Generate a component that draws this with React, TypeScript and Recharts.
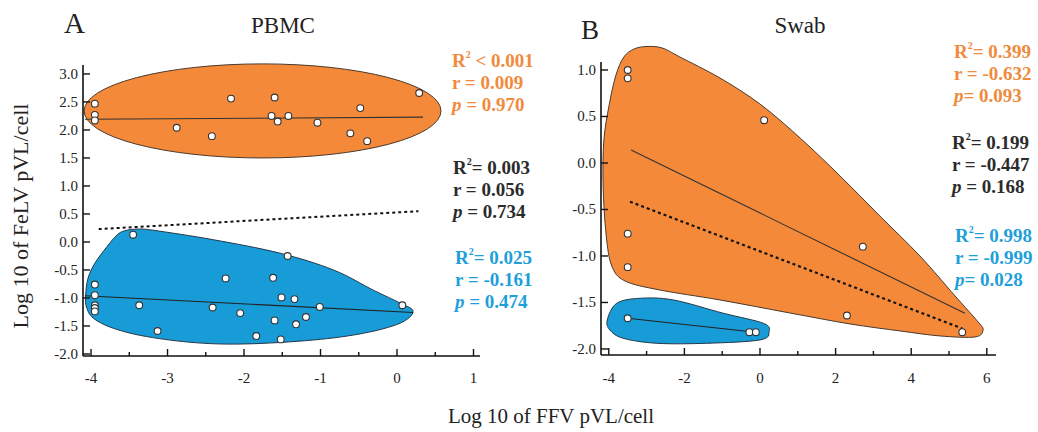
import React from 'react';
import { ScatterChart, Scatter, XAxis, YAxis, ReferenceArea, ReferenceLine } from 'recharts';

const SERIF = '"Liberation Serif", "Times New Roman", serif';
const ORANGE = '#F5893A';
const BLUE = '#179CD8';
const ORANGE_TXT = '#F08A3C';
const BLUE_TXT = '#1E9FDB';
const DARK_TXT = '#2b2b2b';

// ---------- Panel A (PBMC) ----------
const pbmcOrangeX = [-3.95, -3.95, -3.95, -2.17, -1.6, 0.29, -0.48, -1.64, -1.56, -1.42, -1.04, -2.88, -2.42, -0.61, -0.39];
const pbmcOrangeY = [2.47, 2.27, 2.17, 2.56, 2.58, 2.66, 2.39, 2.25, 2.15, 2.25, 2.13, 2.04, 1.89, 1.94, 1.8];
const pbmcBlueX = [-3.45, -1.43, -2.24, -1.62, -3.95, -3.95, -3.95, -3.95, -3.95, -3.37, -2.41, -2.05, -1.51, -1.34, -1.01, 0.07, -1.6, -1.19, -1.32, -3.13, -1.84, -1.52];
const pbmcBlueY = [0.13, -0.25, -0.65, -0.64, -0.76, -0.95, -1.13, -1.18, -1.24, -1.13, -1.17, -1.27, -0.99, -1.02, -1.16, -1.13, -1.4, -1.34, -1.47, -1.59, -1.68, -1.74];
const pbmcOrangeFit = [{ x: -4.08, y: 2.19 }, { x: 0.34, y: 2.23 }];
const pbmcBlueFit = [{ x: -4.08, y: -0.96 }, { x: 0.21, y: -1.26 }];
const pbmcAllFit = [{ x: -3.9, y: 0.23 }, { x: 0.28, y: 0.55 }];
const pbmcOrangeEllipse = { x1: -4.09, x2: 0.575, y1: 1.5, y2: 3.18 };
const pbmcBlueOutline: [number, number][] = [
  [-4.07, -0.95], [-4.04, -0.65], [-3.95, -0.38], [-3.79, -0.08], [-3.66, 0.125], [-3.56, 0.2], [-3.4, 0.23],
  [-3.19, 0.21], [-2.4, 0.04], [-1.53, -0.2], [-0.83, -0.5], [-0.31, -0.86], [0.04, -1.09], [0.21, -1.24],
  [0.04, -1.45], [-0.44, -1.63], [-1.09, -1.75], [-1.96, -1.82], [-2.62, -1.8], [-3.27, -1.69], [-3.71, -1.54],
  [-3.97, -1.36], [-4.06, -1.16],
];
const pbmcXTicks = [-4, -3.5, -3, -2.5, -2, -1.5, -1, -0.5, 0, 0.5, 1];
const pbmcXMajor = [-4, -3, -2, -1, 0, 1];
const pbmcYTicks = [-2, -1.5, -1, -0.5, 0, 0.5, 1, 1.5, 2, 2.5, 3];

// ---------- Panel B (Swab) ----------
const swabOrangeX = [-3.5, -3.5, 0.11, -3.5, -3.5, 2.72, 2.3, 5.35];
const swabOrangeY = [1.0, 0.91, 0.46, -0.76, -1.12, -0.9, -1.64, -1.82];
const swabBlueX = [-3.5, -0.28, -0.11];
const swabBlueY = [-1.67, -1.82, -1.82];
const swabOrangeFit = [{ x: -3.41, y: 0.14 }, { x: 5.42, y: -1.616 }];
const swabAllFit = [{ x: -3.44, y: -0.416 }, { x: 5.35, y: -1.78 }];
const swabBlueFit = [{ x: -3.5, y: -1.67 }, { x: -0.11, y: -1.82 }];
const swabOrangeOutline: [number, number][] = [
  [-2.99, 1.253], [-2.59, 1.237], [-2.12, 1.14], [-1.06, 0.914], [0.0, 0.634], [1.06, 0.269], [2.12, -0.14],
  [3.17, -0.57], [4.23, -1.0], [5.16, -1.43], [5.77, -1.71], [5.9, -1.796], [5.69, -1.871], [4.76, -1.86],
  [3.7, -1.806], [2.38, -1.731], [0.79, -1.613], [-1.06, -1.473], [-2.65, -1.366], [-3.57, -1.269],
  [-3.92, -1.108], [-4.07, -0.774], [-4.15, -0.237], [-4.13, 0.247], [-3.99, 0.624], [-3.81, 0.946],
  [-3.6, 1.14], [-3.33, 1.226],
];
const swabBlueOutline: [number, number][] = [
  [-4.04, -1.688], [-3.79, -1.509], [-3.17, -1.455], [-2.29, -1.473], [-0.97, -1.616], [0.09, -1.724],
  [0.24, -1.814], [0.0, -1.903], [-1.41, -1.939], [-2.73, -1.939], [-3.62, -1.885], [-3.97, -1.796],
];
const swabXTicks = [-4, -3, -2, -1, 0, 1, 2, 3, 4, 5, 6];
const swabXMajor = [-4, -2, 0, 2, 4, 6];
const swabYTicks = [-2, -1.5, -1, -0.5, 0, 0.5, 1];

const zip = (xs: number[], ys: number[]) => xs.map((x, i) => ({ x, y: ys[i] }));

function smoothClosedPath(pts: number[][]) {
  const n = pts.length;
  let d = `M${pts[0][0]},${pts[0][1]}`;
  for (let i = 0; i < n; i++) {
    const p0 = pts[(i - 1 + n) % n];
    const p1 = pts[i];
    const p2 = pts[(i + 1) % n];
    const p3 = pts[(i + 2) % n];
    const c1x = p1[0] + (p2[0] - p0[0]) / 6;
    const c1y = p1[1] + (p2[1] - p0[1]) / 6;
    const c2x = p2[0] - (p3[0] - p1[0]) / 6;
    const c2y = p2[1] - (p3[1] - p1[1]) / 6;
    d += ` C${c1x},${c1y} ${c2x},${c2y} ${p2[0]},${p2[1]}`;
  }
  return d + ' Z';
}

function bounds(outline: [number, number][]) {
  const xs = outline.map((p) => p[0]);
  const ys = outline.map((p) => p[1]);
  return { x1: Math.min(...xs), x2: Math.max(...xs), y1: Math.min(...ys), y2: Math.max(...ys) };
}

function makeBlobShape(outline: [number, number][], fill: string, stroke: string) {
  const b = bounds(outline);
  return (props: any) => {
    const { x, y, width, height } = props;
    const pts = outline.map(([vx, vy]) => [
      x + ((vx - b.x1) / (b.x2 - b.x1)) * width,
      y + ((b.y2 - vy) / (b.y2 - b.y1)) * height,
    ]);
    return <path d={smoothClosedPath(pts)} fill={fill} stroke={stroke} strokeWidth={1} />;
  };
}

const ellipseShape = (fill: string, stroke: string) => (props: any) => {
  const { x, y, width, height } = props;
  return <ellipse cx={x + width / 2} cy={y + height / 2} rx={width / 2} ry={height / 2} fill={fill} stroke={stroke} strokeWidth={1} />;
};

const Dot = (props: any) => {
  const { cx, cy } = props;
  if (cx == null || cy == null) return <g />;
  return <circle cx={cx} cy={cy} r={3.4} fill="#fff" stroke="#333" strokeWidth={1.1} />;
};

const makeXTick = (majors: number[], labelOffset: number) => (props: any) => {
  const { x, y, payload } = props;
  const v = payload.value;
  const major = majors.includes(v);
  return (
    <g>
      <line x1={x} x2={x} y1={y} y2={y - (major ? 7 : 4)} stroke="#111" strokeWidth={1.4} />
      {major && (
        <text x={x} y={y + labelOffset} textAnchor="middle" fontFamily={SERIF} fontSize={15} fill="#222">
          {String(v)}
        </text>
      )}
    </g>
  );
};

const YTick = (props: any) => {
  const { x, y, payload } = props;
  return (
    <g>
      <line x1={x} x2={x + 7} y1={y} y2={y} stroke="#111" strokeWidth={1.4} />
      <text x={x - 5} y={y + 5} textAnchor="end" fontFamily={SERIF} fontSize={15} fill="#222">
        {Number(payload.value).toFixed(1)}
      </text>
    </g>
  );
};

const axisLine = { stroke: '#111', strokeWidth: 1.6 };

function PanelA() {
  return (
    <ScatterChart width={520} height={432} margin={{ top: 65, right: 40, bottom: 46, left: 43 }}>
      <XAxis type="number" dataKey="x" domain={[-4.105, 1.085]} allowDataOverflow ticks={pbmcXTicks} interval={0}
        tickSize={0} tickMargin={0} tickLine={false} axisLine={axisLine} height={30} tick={makeXTick(pbmcXMajor, 27)} />
      <YAxis type="number" dataKey="y" domain={[-2.036, 3.16]} allowDataOverflow ticks={pbmcYTicks} interval={0}
        tickSize={0} tickMargin={0} tickLine={false} axisLine={axisLine} width={40} tick={<YTick />} />
      <ReferenceArea {...pbmcOrangeEllipse} ifOverflow="visible" shape={ellipseShape(ORANGE, '#4a3a2c')} />
      <ReferenceArea {...bounds(pbmcBlueOutline)} ifOverflow="visible" shape={makeBlobShape(pbmcBlueOutline, BLUE, '#24384a')} />
      <ReferenceLine segment={pbmcOrangeFit} ifOverflow="visible" stroke="#333" strokeWidth={1.1} />
      <ReferenceLine segment={pbmcBlueFit} ifOverflow="visible" stroke="#222" strokeWidth={1.1} />
      <ReferenceLine segment={pbmcAllFit} ifOverflow="visible" stroke="#111" strokeWidth={2} strokeDasharray="3 3" />
      <Scatter data={zip(pbmcOrangeX, pbmcOrangeY)} shape={<Dot />} isAnimationActive={false} />
      <Scatter data={zip(pbmcBlueX, pbmcBlueY)} shape={<Dot />} isAnimationActive={false} />
    </ScatterChart>
  );
}

function PanelB() {
  return (
    <ScatterChart width={518} height={432} margin={{ top: 62, right: 42, bottom: 47, left: 41 }}>
      <XAxis type="number" dataKey="x" domain={[-4.206, 6.243]} allowDataOverflow ticks={swabXTicks} interval={0}
        tickSize={0} tickMargin={0} tickLine={false} axisLine={axisLine} height={30} tick={makeXTick(swabXMajor, 28)} />
      <YAxis type="number" dataKey="y" domain={[-2.065, 1.086]} allowDataOverflow ticks={swabYTicks} interval={0}
        tickSize={0} tickMargin={0} tickLine={false} axisLine={axisLine} width={40} tick={<YTick />} />
      <ReferenceArea {...bounds(swabOrangeOutline)} ifOverflow="visible" shape={makeBlobShape(swabOrangeOutline, ORANGE, '#4a3a2c')} />
      <ReferenceArea {...bounds(swabBlueOutline)} ifOverflow="visible" shape={makeBlobShape(swabBlueOutline, BLUE, '#24384a')} />
      <ReferenceLine segment={swabOrangeFit} ifOverflow="visible" stroke="#333" strokeWidth={1.1} />
      <ReferenceLine segment={swabAllFit} ifOverflow="visible" stroke="#111" strokeWidth={2.2} strokeDasharray="3 3" />
      <ReferenceLine segment={swabBlueFit} ifOverflow="visible" stroke="#222" strokeWidth={1.1} />
      <Scatter data={zip(swabOrangeX, swabOrangeY)} shape={<Dot />} isAnimationActive={false} />
      <Scatter data={zip(swabBlueX, swabBlueY)} shape={<Dot />} isAnimationActive={false} />
    </ScatterChart>
  );
}

type Stat = { left: number; top: number; color: string; r2: string; r: string; p: string };
const stats: Stat[] = [
  { left: 452, top: 61, color: ORANGE_TXT, r2: ' < 0.001', r: 'r = 0.009', p: ' = 0.970' },
  { left: 453, top: 168, color: DARK_TXT, r2: '= 0.003', r: 'r = 0.056', p: ' = 0.734' },
  { left: 455, top: 258, color: BLUE_TXT, r2: '= 0.025', r: 'r = -0.161', p: ' = 0.474' },
  { left: 954, top: 52, color: ORANGE_TXT, r2: '= 0.399', r: 'r = -0.632', p: '= 0.093' },
  { left: 952, top: 143, color: DARK_TXT, r2: '= 0.199', r: 'r = -0.447', p: ' = 0.168' },
  { left: 955, top: 236, color: BLUE_TXT, r2: '= 0.998', r: 'r = -0.999', p: '= 0.028' },
];

function Overlay() {
  return (
    <svg width={1038} height={432} style={{ position: 'absolute', left: 0, top: 0, pointerEvents: 'none' }}>
      <g fontFamily={SERIF} fill="#222">
        <text x={64} y={33} fontSize={29}>A</text>
        <text x={283} y={33} fontSize={23} textAnchor="middle">PBMC</text>
        <text x={581} y={39} fontSize={27}>B</text>
        <text x={800} y={33} fontSize={23} textAnchor="middle">Swab</text>
        <text transform="translate(28,216) rotate(-90)" fontSize={22} textAnchor="middle">Log 10 of FeLV pVL/cell</text>
        <text x={551} y={423} fontSize={21} textAnchor="middle">Log 10 of FFV pVL/cell</text>
      </g>
      {stats.map((s, i) => (
        <g key={i} fontFamily={SERIF} fontWeight="bold" fontSize={19} fill={s.color}>
          <text x={s.left} y={s.top + 6}>
            R<tspan dy={-9} fontSize={10}>2</tspan>
            <tspan dy={9}>{s.r2}</tspan>
          </text>
          <text x={s.left} y={s.top + 28}>{s.r}</text>
          <text x={s.left} y={s.top + 50}>
            <tspan fontStyle="italic">p</tspan>
            {s.p}
          </text>
        </g>
      ))}
    </svg>
  );
}

export default function App() {
  return (
    <div style={{ position: 'absolute', left: 0, top: 0, width: 1038, height: 432, background: '#fff', overflow: 'hidden' }}>
      <div style={{ position: 'absolute', left: 0, top: 0 }}>
        <PanelA />
      </div>
      <div style={{ position: 'absolute', left: 520, top: 0 }}>
        <PanelB />
      </div>
      <Overlay />
    </div>
  );
}
